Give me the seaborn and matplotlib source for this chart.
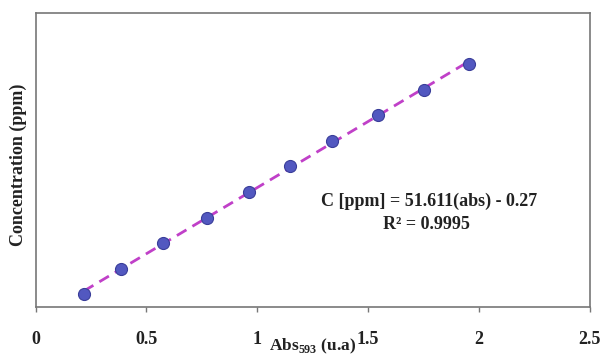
import matplotlib
matplotlib.use("Agg")
import matplotlib.pyplot as plt
import seaborn as sns
import numpy as np
import pandas as pd

absorbance = [0.218, 0.385, 0.574, 0.773, 0.962, 1.146, 1.336, 1.543, 1.750, 1.953]
concentration = [10, 20, 30, 40, 50, 60, 70, 80, 90, 100]
x_ticks = [0, 0.5, 1, 1.5, 2, 2.5]
x_ticklabels = ["0", "0.5", "1", "1.5", "2", "2.5"]
equation = "C [ppm] = 51.611(abs) - 0.27"
r2_text = "R\u00b2 = 0.9995"

sns.set_style("white")
plt.rcParams['font.family'] = ['Liberation Serif', 'DejaVu Serif']

df = pd.DataFrame({"abs": absorbance, "conc": concentration})

fig = plt.figure(figsize=(6.04, 3.56), dpi=100)
ax = fig.add_axes([0.0588, 0.1376, 0.9177, 0.826])

# fit line
coef = np.polyfit(df["abs"], df["conc"], 1)
xl = np.array([df["abs"].min(), df["abs"].max()])
sns.lineplot(x=xl, y=np.polyval(coef, xl), ax=ax, color="#c040c8",
             linestyle=(0, (4, 2.5)), linewidth=2.0, zorder=2)
sns.scatterplot(data=df, x="abs", y="conc", ax=ax, s=75, color="#5258c0",
                edgecolor="#3a3e9a", linewidth=0.8, zorder=3)

ax.set_xlim(0, 2.5)
ax.set_ylim(5, 120)
ax.set_xticks(x_ticks)
ax.set_xticklabels(x_ticklabels, fontsize=13, fontweight="bold", color="#222222")
ax.set_yticks([])
ax.tick_params(axis="x", direction="out", length=3.5, width=1, color="#777777", bottom=True, pad=14)
for sp in ax.spines.values():
    sp.set_color("#777777")
    sp.set_linewidth(1.2)

ax.set_xlabel("Abs$_{\\mathregular{593}}$ (u.a)", fontsize=12.5, fontweight="bold", color="#222222")
ax.xaxis.set_label_coords(0.5, -0.1)
ax.set_ylabel("Concentration (ppm)", fontsize=13, fontweight="bold", color="#222222")
ax.yaxis.set_label_coords(-0.016, 0.483)

ax.text(0.711, 0.3605, equation, transform=ax.transAxes, ha="center", va="center",
        fontsize=13, fontweight="bold", color="#222222")
ax.text(0.705, 0.282, r2_text, transform=ax.transAxes, ha="center", va="center",
        fontsize=13, fontweight="bold", color="#222222")

fig.savefig("out.png", dpi=100)
